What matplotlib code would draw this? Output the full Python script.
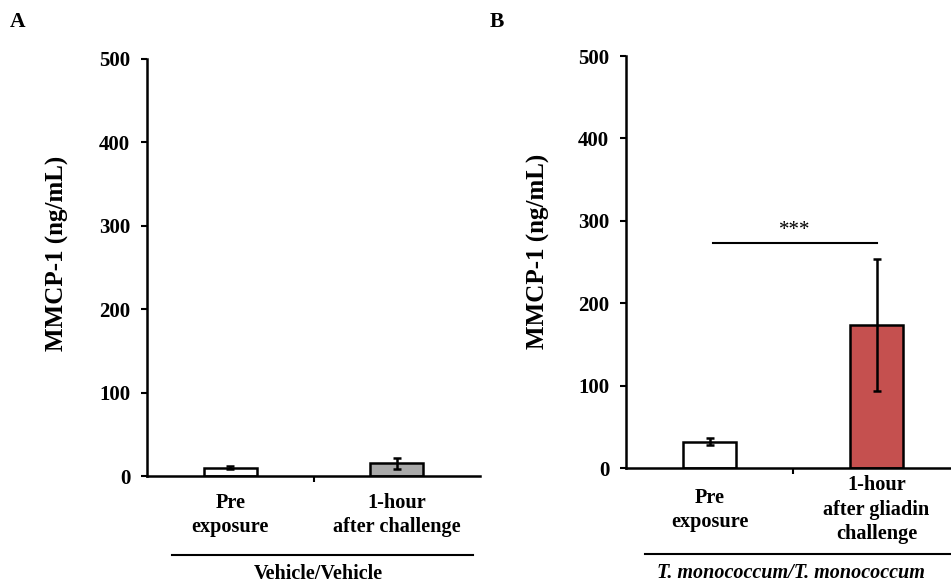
import matplotlib
matplotlib.use("Agg")
import matplotlib.pyplot as plt
from matplotlib.lines import Line2D
import matplotlib.transforms as mtrans

plt.rcParams['font.family'] = ['Liberation Serif', 'DejaVu Serif']
plt.rcParams['font.weight'] = 'bold'

# Data
cats_A = ["Pre\nexposure", "1-hour\nafter challenge"]
vals_A = [10, 15]
errs_A = [1.5, 7]
colors_A = ["white", "#A9A9A9"]
group_A = "Vehicle/Vehicle"

cats_B = ["Pre\nexposure", "1-hour\nafter gliadin\nchallenge"]
vals_B = [32, 174]
errs_B = [4, 80]
colors_B = ["white", "#C5504F"]
group_B = "T. monococcum/T. monococcum"

yticks = [0, 100, 200, 300, 400, 500]
ylabel = "MMCP-1 (ng/mL)"
sig_B = "***"
sig_y = 273

W, H = 951, 586
fig = plt.figure(figsize=(W / 100, H / 100), dpi=100)

def fx(px):
    return px / W

def fy(py):
    return (H - py) / H

def make_panel(left, right, y0, y500, cats, vals, errs, colors, lab_y):
    ax = fig.add_axes([fx(left), fy(y0), fx(right) - fx(left), fy(y500) - fy(y0)])
    xs = [0.5, 1.5]
    ax.bar(xs, vals, width=0.32, color=colors, edgecolor="black", linewidth=1.8, zorder=2)
    ax.errorbar(xs, vals, yerr=errs, fmt="none", ecolor="black", elinewidth=1.8,
                capsize=3, capthick=1.8, zorder=3)
    ax.set_xlim(0, 2)
    ax.set_ylim(0, 500)
    ax.set_yticks(yticks)
    ax.set_yticklabels([str(t) for t in yticks], fontsize=15, fontweight="bold")
    ax.set_xticks([1])
    ax.set_xticklabels([""])
    ax.tick_params(axis="y", direction="out", length=4, width=1.5, pad=8)
    ax.tick_params(axis="x", direction="out", length=4, width=1.5)
    for s in ["top", "right"]:
        ax.spines[s].set_visible(False)
    ax.spines["left"].set_linewidth(1.8)
    ax.spines["bottom"].set_linewidth(1.8)
    ax.spines["bottom"].set_clip_on(False)
    trans = mtrans.blended_transform_factory(ax.transData, fig.transFigure)
    for x, c, ly in zip(xs, cats, lab_y):
        ax.text(x, fy(ly), c, transform=trans, ha="center", va="center",
                multialignment="center", fontsize=14.6, fontweight="bold",
                linespacing=1.3)
    return ax

axA = make_panel(147, 480, 476, 59, cats_A, vals_A, errs_A, colors_A, [515, 515])
axB = make_panel(626, 960, 468, 56, cats_B, vals_B, errs_B, colors_B, [510, 510])

fig.text(fx(57), fy(253), ylabel, rotation=90, ha="center", va="center",
         fontsize=18, fontweight="bold")
fig.text(fx(538), fy(251), ylabel, rotation=90, ha="center", va="center",
         fontsize=18, fontweight="bold")

fig.text(fx(18), fy(22), "A", ha="center", va="center", fontsize=15.5, fontweight="bold")
fig.text(fx(497), fy(22), "B", ha="center", va="center", fontsize=15.5, fontweight="bold")

# significance bar in B
axB.plot([0.52, 1.5], [sig_y, sig_y], color="black", linewidth=1.5, clip_on=False)
axB.text(1.01, sig_y + 4, sig_B, ha="center", va="bottom", fontsize=15, fontweight="normal")

# group lines and labels
fig.add_artist(Line2D([fx(172), fx(473)], [fy(555), fy(555)], color="black", linewidth=1.5))
fig.add_artist(Line2D([fx(645), fx(955)], [fy(554), fy(554)], color="black", linewidth=1.5))
fig.text(fx(318), fy(574), group_A, ha="center", va="center", fontsize=14.5, fontweight="bold")
fig.text(fx(791), fy(573), group_B, ha="center", va="center", fontsize=14.5,
         fontweight="bold", style="italic")

fig.savefig("out.png", dpi=100)
